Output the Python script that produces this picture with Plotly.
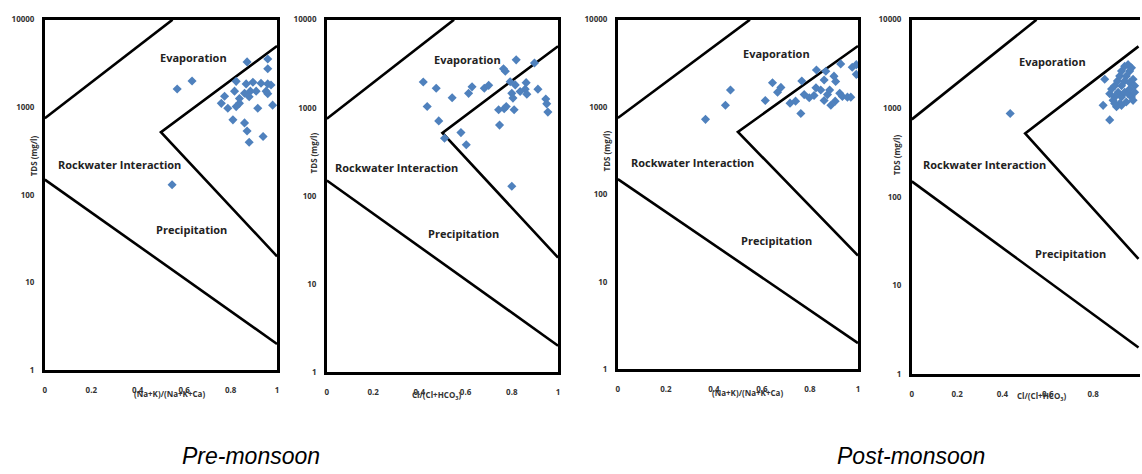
import math
import plotly.graph_objects as go

# ---------------- data ----------------
# Panel 1: Pre-monsoon, (Na+K)/(Na+K+Ca) vs TDS
pre_cation_ratio = [0.57, 0.634, 0.548, 0.871, 0.96, 0.96, 0.824, 0.867, 0.896, 0.931, 0.96, 0.974,
                    0.774, 0.817, 0.86, 0.885, 0.91, 0.953, 0.96, 0.838, 0.88, 0.76, 0.788, 0.824,
                    0.838, 0.917, 0.981, 0.81, 0.86, 0.871, 0.94, 0.88]
pre_cation_tds = [1620, 2000, 131, 3300, 3560, 2760, 1980, 1850, 1930, 1880, 1850, 1800,
                  1340, 1530, 1450, 1530, 1530, 1530, 1430, 1260, 1320, 1110, 975, 1020,
                  1110, 975, 1060, 720, 665, 537, 465, 400]

# Panel 2: Pre-monsoon, Cl/(Cl+HCO3) vs TDS
pre_anion_ratio = [0.417, 0.434, 0.473, 0.484, 0.542, 0.509, 0.58, 0.603, 0.613, 0.628, 0.681, 0.70,
                   0.764, 0.772, 0.819, 0.793, 0.815, 0.862, 0.80, 0.805, 0.836, 0.858, 0.865, 0.913,
                   0.898, 0.743, 0.767, 0.776, 0.81, 0.747, 0.947, 0.951, 0.956, 0.80]
pre_anion_tds = [1960, 1035, 1670, 711, 1300, 452, 524, 381, 1460, 1730, 1670, 1800,
                 2780, 2600, 3500, 1980, 1820, 1930, 1460, 1290, 1530, 1630, 1430, 1630,
                 3220, 950, 975, 1035, 950, 637, 1260, 1110, 895, 129]

# Panel 3: Post-monsoon, (Na+K)/(Na+K+Ca) vs TDS
post_cation_ratio = [0.365, 0.448, 0.469, 0.614, 0.644, 0.665, 0.679, 0.717, 0.74, 0.766, 0.762, 0.776,
                     0.797, 0.817, 0.827, 0.825, 0.845, 0.859, 0.866, 0.873, 0.859, 0.882, 0.90, 0.907,
                     0.928, 0.887, 0.905, 0.924, 0.935, 0.956, 0.97, 0.976, 0.993, 0.993]
post_cation_tds = [724, 1050, 1570, 1190, 1900, 1480, 1680, 1110, 1170, 1990, 845, 1390,
                   1280, 1360, 2660, 1660, 1570, 2040, 2570, 1390, 1190, 1570, 2260, 1960,
                   3120, 1050, 1170, 1440, 1320, 1300, 1300, 2860, 3060, 2370]

# Panel 4: Post-monsoon, Cl/(Cl+HCO3) vs TDS
post_anion_ratio = [0.434, 0.851, 0.873, 0.881, 0.895, 0.907, 0.917, 0.925, 0.939, 0.954, 0.969, 0.961,
                    0.946, 0.939, 0.961, 0.976, 0.983, 0.925, 0.91, 0.895, 0.888, 0.925, 0.939, 0.954,
                    0.969, 0.976, 0.946, 0.925, 0.917, 0.903, 0.844, 0.873, 0.961, 0.983, 0.895]
post_anion_tds = [875, 2130, 1460, 1650, 1800, 2040, 2310, 2630, 2980, 3110, 2860, 2630,
                  2310, 2040, 1950, 2130, 1800, 1800, 1520, 1340, 1230, 1340, 1520, 1460,
                  1340, 1230, 1180, 1080, 1130, 1040, 1080, 740, 1650, 1520, 1130]

# Gibbs boundary lines
upper_left_x = [0, 0.55]
upper_left_y = [750, 10000]
boomerang_x = [1, 0.5, 1]
boomerang_y = [5000, 520, 20]
lower_x = [0, 1]
lower_y = [150, 2]

x_ticks = [0, 0.2, 0.4, 0.6, 0.8, 1]
y_ticks = [1, 10, 100, 1000, 10000]
y_tick_text = ["1", "10", "100", "1000", "10000"]

x_titles = ["(Na+K)/(Na+K+Ca)", "Cl/(Cl+HCO<sub>3</sub>)",
            "(Na+K)/(Na+K+Ca)", "Cl/(Cl+HCO<sub>3</sub>)"]
y_title = "TDS (mg/l)"
region_labels = ["Evaporation", "Rockwater Interaction", "Precipitation"]
season_titles = ["Pre-monsoon", "Post-monsoon"]

# ---------------- layout helpers ----------------
W, H = 1142, 474


def fx(px):
    return px / W


def fy(py):
    return 1 - py / H


panels = [
    dict(x0=43, x1=276, yt=14, yb=373, xr=[0, 1], ticks=x_ticks, mirror_y=True,
         xs=pre_cation_ratio, ys=pre_cation_tds,
         lab=[(0.64, 3700), (0.32, 220), (0.63, 40)],
         xtitle=(168, 397), ytitle=(32, 153)),
    dict(x0=326, x1=558, yt=14, yb=375, xr=[0, 1], ticks=x_ticks, mirror_y=True,
         xs=pre_anion_ratio, ys=pre_anion_tds,
         lab=[(0.61, 3500), (0.30, 210), (0.59, 38)],
         xtitle=(436, 399), ytitle=(313, 150)),
    dict(x0=618, x1=859, yt=14, yb=372, xr=[0, 1], ticks=x_ticks, mirror_y=True,
         xs=post_cation_ratio, ys=post_cation_tds,
         lab=[(0.66, 4100), (0.31, 235), (0.66, 30)],
         xtitle=(748, 396), ytitle=(607, 148)),
    dict(x0=913, x1=1142, yt=14, yb=377, xr=[0, (1142 - 913) / 227.5], ticks=x_ticks[:-1],
         mirror_y=False,
         xs=post_anion_ratio, ys=post_anion_tds,
         lab=[(0.62, 3400), (0.32, 230), (0.70, 23)],
         xtitle=(1043, 400), ytitle=(898, 152)),
]

tickfont = dict(family="Open Sans", size=8, color="#333333", weight="bold")
labfont = dict(family="Open Sans", size=11, color="#222222", weight="bold")

fig = go.Figure()
annotations = []
layout_axes = {}

for i, p in enumerate(panels):
    sfx = "" if i == 0 else str(i + 1)
    xa, ya = "x" + sfx, "y" + sfx
    for bx, by in [(upper_left_x, upper_left_y), (boomerang_x, boomerang_y), (lower_x, lower_y)]:
        fig.add_trace(go.Scatter(x=bx, y=by, mode="lines", xaxis=xa, yaxis=ya,
                                 line=dict(color="black", width=2.6),
                                 showlegend=False, hoverinfo="skip"))
    fig.add_trace(go.Scatter(x=p["xs"], y=p["ys"], mode="markers", xaxis=xa, yaxis=ya,
                             marker=dict(symbol="diamond", size=7, color="#4F81BD"),
                             showlegend=False))

    layout_axes["xaxis" + sfx] = dict(
        domain=[fx(p["x0"]), fx(p["x1"])], range=p["xr"], anchor=ya,
        tickvals=p["ticks"], ticktext=[f"{v:g}" for v in p["ticks"]],
        tickfont=tickfont, showgrid=False, zeroline=False,
        showline=True, mirror=True, linecolor="black", linewidth=2.6,
        ticks="", ticklabelstandoff=10, fixedrange=True)
    layout_axes["yaxis" + sfx] = dict(
        domain=[fy(p["yb"]), fy(p["yt"])], type="log", range=[0, 4], anchor=xa,
        tickvals=y_ticks, ticktext=y_tick_text,
        tickfont=tickfont, showgrid=False, zeroline=False,
        showline=True, mirror=p["mirror_y"], linecolor="black", linewidth=2.6,
        ticks="", ticklabelstandoff=6, fixedrange=True)

    for (lx, ly), txt in zip(p["lab"], region_labels):
        annotations.append(dict(x=lx, y=math.log10(ly), xref=xa, yref=ya, text=txt,
                                xanchor="center", yanchor="middle",
                                showarrow=False, font=labfont))
    annotations.append(dict(x=fx(p["xtitle"][0]), y=fy(p["xtitle"][1]), xref="paper", yref="paper",
                            xanchor="center", yanchor="middle",
                            text=x_titles[i], showarrow=False, font=tickfont))
    annotations.append(dict(x=fx(p["ytitle"][0]), y=fy(p["ytitle"][1]), xref="paper", yref="paper",
                            xanchor="center", yanchor="middle",
                            text=y_title, textangle=-90, showarrow=False, font=tickfont))

for cx, txt in zip([250, 912], season_titles):
    annotations.append(dict(x=fx(cx), y=fy(461), xref="paper", yref="paper", text=txt,
                            xanchor="center", yanchor="middle", showarrow=False,
                            font=dict(family="Liberation Sans", size=23, color="black", style="italic")))

fig.update_layout(width=W, height=H, margin=dict(l=0, r=0, t=0, b=0),
                  paper_bgcolor="white", plot_bgcolor="white",
                  annotations=annotations, **layout_axes)

fig.write_html("out.html", config={"displayModeBar": False},
               post_script="document.body.style.margin='0px';")
